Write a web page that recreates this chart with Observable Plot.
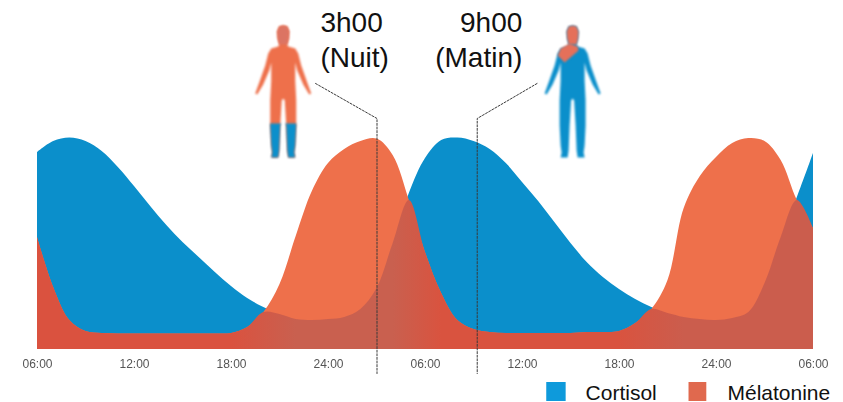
<!DOCTYPE html>
<html><head><meta charset="utf-8">
<script src="https://cdn.jsdelivr.net/npm/d3@7"></script>
<script src="https://cdn.jsdelivr.net/npm/@observablehq/plot@0.6"></script>
<style>html,body{margin:0;background:#fff}svg{display:block}</style>
</head><body><div id="c"></div>
<script>
const hours = d3.range(6, 55);
const cortisol = [197,208,211.5,208,198,182,163,143,124,107,92,77,63,51,42,35,30,29,30,32,40,61,106,156,191,209,211.5,208,200,186,167,148,127,106,87,72,60,50,42,36,32,30,29,31,37,66,112,152,196];
const melatonin = [112,62,29,18,16,15.5,15.5,15.5,15.5,15.5,15.5,15.5,16,22,37,65,113,158,186,200,208,210.5,194,149,97,56,29,20,17,16,16,16,16,16,17,17,18,26,40,69,141,173,192,206,211,208,189,149,121];
const tickHours = [6,12,18,24,30,36,42,48,54];
const tickLabels = ["06:00","12:00","18:00","24:00","06:00","12:00","18:00","24:00","06:00"];
const markerHours = [27, 33.2];
const markerLabels = [["3h00","(Nuit)"],["9h00","(Matin)"]];
const seriesNames = ["Cortisol","Mélatonine"];
const BLUE="#0b8fcb", ORANGE="#ee704b";

const table = hours.map((h,i)=>({h, c:cortisol[i], m:melatonin[i], o:Math.min(cortisol[i],melatonin[i])}));

// body silhouette: half outline, [offset, level]
const bodyHalf = [[0,324],[4,323],[6,318],[5.5,311],[4,305],[5,303],[12,301],[15,296],[18,284],[24,267],[28,256],[26,255],[20,265],[14,279],[12,287],[12,269],[13,249],[13,224],[12,204],[11,197],[12,192],[5,192],[4,199],[3,224],[1.5,249],[0,251]];
const body = [...bodyHalf, ...bodyHalf.slice(1,-1).reverse().map(([d,l])=>[-d,l])];
const legs = [[2,226],[13,226],[13,224],[12,204],[11,197],[12,192],[5,192],[4,199],[3,224],[2,226]];
const legsBoth = [legs, legs.map(([d,l])=>[-d,l])];
const head = [[0,324],[4,323],[6,318],[5.5,311],[4,305],[-4,305],[-5.5,311],[-6,318],[-4,323]];
const shoulder = [[-3,306],[5,303],[6,299],[-8,287],[-15,294],[-12,301]];
const pxPerHour = 776/48;
const at = (cx,pts)=>pts.map(([d,l])=>({x:cx+d/pxPerHour,l}));
const shape = (cx,pts,fill)=>Plot.line(at(cx,pts),{x:"x",y:"l",fill,stroke:"none",curve:"linear"});
const figLeft=21.2, figRight=39.1;

const connector = [
  [{x:23.2,y:266},{x:markerHours[0],y:231},{x:markerHours[0],y:-24}],
  [{x:36.9,y:266},{x:markerHours[1],y:231},{x:markerHours[1],y:-24}]
];
const fontFamily="Liberation Sans, Arial, sans-serif";
const big={lineAnchor:"bottom",fontSize:28,fill:"#111",text:d=>d};
const small={textAnchor:"start",lineAnchor:"bottom",fontSize:21,fill:"#111",text:d=>d};

const plot = Plot.plot({
  width:843, height:402, marginLeft:37, marginRight:30, marginTop:137, marginBottom:53,
  x:{domain:[6,54]}, y:{domain:[0,212], axis:null},
  style:{background:"#fff", fontFamily},
  marks:[
    Plot.axisX({ticks:tickHours, tickFormat:h=>tickLabels[tickHours.indexOf(h)], tickSize:0, tickPadding:10, fontSize:12, fill:"#555", label:null}),
    Plot.areaY(table,{x:"h",y:"c",fill:BLUE,curve:"catmull-rom"}),
    Plot.areaY(table,{x:"h",y:"m",fill:ORANGE,curve:"catmull-rom"}),
    Plot.areaY(table,{x:"h",y:"o",fill:"url(#ov)",curve:"catmull-rom"}),
    Plot.line(connector[0],{x:"x",y:"y",stroke:"#3a3a3a",strokeWidth:1,strokeDasharray:"2,1.6"}),
    Plot.line(connector[1],{x:"x",y:"y",stroke:"#3a3a3a",strokeWidth:1,strokeDasharray:"2,1.6"}),
    shape(figLeft,body,ORANGE),
    shape(figLeft,legsBoth[0],BLUE), shape(figLeft,legsBoth[1],BLUE),
    shape(figLeft,head,"#dc7463"),
    shape(figRight,body,BLUE),
    shape(figRight,head,"#e5705a"), shape(figRight,shoulder,"#e5705a"),
    // big labels
    Plot.text([markerLabels[0][0]],{...big,x:()=>23.5,y:()=>318,textAnchor:"start"}),
    Plot.text([markerLabels[0][1]],{...big,x:()=>23.5,y:()=>283,textAnchor:"start"}),
    Plot.text([markerLabels[1][0]],{...big,x:()=>35.99,y:()=>318,textAnchor:"end"}),
    Plot.text([markerLabels[1][1]],{...big,x:()=>35.99,y:()=>283,textAnchor:"end"}),
    // legend
    Plot.rect([0],{x1:()=>37.5,x2:()=>38.7,y1:()=>-52,y2:()=>-33,fill:"#0e9adb"}),
    Plot.rect([0],{x1:()=>46.3,x2:()=>47.4,y1:()=>-52,y2:()=>-33,fill:"#e0694e"}),
    Plot.text([seriesNames[0]],{...small,x:()=>39.9,y:()=>-50}),
    Plot.text([seriesNames[1]],{...small,x:()=>48.68,y:()=>-50})
  ]
});
const svg=d3.select(plot);
const g=svg.append("defs").append("linearGradient").attr("id","ov");
[[6,"#da523f"],[18,"#da523f"],[22,"#c9604f"],[28,"#c9604f"],[31,"#d9533f"],[42,"#d9533f"],[46,"#cb5d4d"],[54,"#cb5d4d"]]
 .forEach(([h,c])=>g.append("stop").attr("offset",(h-6)/48).attr("stop-color",c));
svg.selectAll('g[aria-label="area"]').style("filter","blur(0.6px)");
svg.selectAll('g[aria-label="line"]').filter(function(){return this.getAttribute("stroke")==="none"||this.getAttribute("stroke")===null;}).style("filter","blur(0.8px)");
svg.selectAll('g[aria-label="x-axis tick label"]').style("filter","blur(0.6px)");
document.getElementById("c").append(plot);
</script></body></html>
